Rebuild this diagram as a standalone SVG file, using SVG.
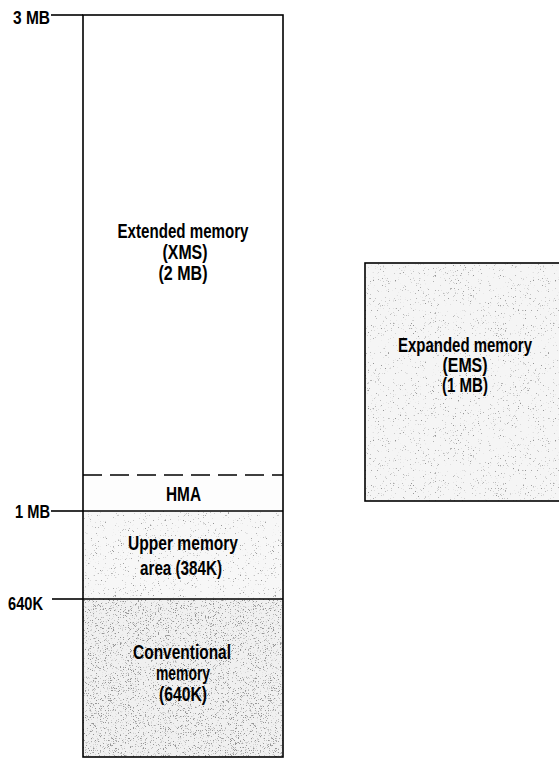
<svg xmlns="http://www.w3.org/2000/svg" width="559" height="760" viewBox="0 0 559 760">
<defs>
<filter id="specklight" x="0" y="0" width="1" height="1" filterUnits="objectBoundingBox">
<feTurbulence type="fractalNoise" baseFrequency="1.6" numOctaves="1" seed="4"/>
<feColorMatrix type="matrix" values="0 0 0 0 0.3  0 0 0 0 0.3  0 0 0 0 0.3  9 0 0 0 -5.9"/>
<feComposite in2="SourceAlpha" operator="in"/>
</filter>
<filter id="speckdense" x="0" y="0" width="1" height="1" filterUnits="objectBoundingBox">
<feTurbulence type="fractalNoise" baseFrequency="1.6" numOctaves="1" seed="9"/>
<feColorMatrix type="matrix" values="0 0 0 0 0.3  0 0 0 0 0.3  0 0 0 0 0.3  9 0 0 0 -5.3"/>
<feComposite in2="SourceAlpha" operator="in"/>
</filter>
</defs>
<style>
.box{fill:none;stroke:#000;stroke-width:1.6}
.ln{stroke:#000;stroke-width:1.6;fill:none}
.dash{stroke:#000;stroke-width:1.6;stroke-dasharray:19 8;fill:none}
text{font-family:"Liberation Sans",Arial,sans-serif;font-weight:bold;font-size:20px;fill:#000}
.c{text-anchor:middle}
.e{text-anchor:end}
.s{font-size:19px}
</style>

<g id="extended-memory">
<rect x="83" y="15" width="200" height="460" fill="#fff"/>
<text class="c" x="183" y="238" textLength="131" lengthAdjust="spacingAndGlyphs">Extended memory</text>
<text class="c" x="185" y="259" textLength="45" lengthAdjust="spacingAndGlyphs">(XMS)</text>
<text class="c" x="183" y="280" textLength="49" lengthAdjust="spacingAndGlyphs">(2 MB)</text>
</g>

<g id="hma">
<rect x="83" y="475" width="200" height="36" fill="#fdfdfd"/>
<text class="c" x="183.5" y="501" textLength="35" lengthAdjust="spacingAndGlyphs">HMA</text>
</g>

<g id="upper-memory-area">
<rect x="83" y="511" width="200" height="88" fill="#f7f7f7"/>
<rect x="83" y="511" width="200" height="88" fill="#fff" filter="url(#specklight)"/>
<text class="c" x="183" y="550" textLength="110" lengthAdjust="spacingAndGlyphs">Upper memory</text>
<text class="c" x="181" y="575" textLength="82" lengthAdjust="spacingAndGlyphs">area (384K)</text>
</g>

<g id="conventional-memory">
<rect x="83" y="599" width="200" height="158" fill="#f0f0f0"/>
<rect x="83" y="599" width="200" height="158" fill="#fff" filter="url(#speckdense)"/>
<text class="c" x="182" y="659" textLength="98" lengthAdjust="spacingAndGlyphs">Conventional</text>
<text class="c" x="183" y="680" textLength="54" lengthAdjust="spacingAndGlyphs">memory</text>
<text class="c" x="183" y="701" textLength="48" lengthAdjust="spacingAndGlyphs">(640K)</text>
</g>

<g id="expanded-memory">
<rect x="365" y="263" width="200" height="238" fill="#f5f5f5"/>
<rect x="365" y="263" width="200" height="238" fill="#fff" filter="url(#specklight)"/>
<rect x="365" y="263" width="200" height="238" class="box"/>
<text class="c" x="465" y="352" textLength="134" lengthAdjust="spacingAndGlyphs">Expanded memory</text>
<text class="c" x="465" y="372" textLength="45" lengthAdjust="spacingAndGlyphs">(EMS)</text>
<text class="c" x="465" y="392" textLength="46" lengthAdjust="spacingAndGlyphs">(1 MB)</text>
</g>

<g id="scale-labels">
<text class="e s" x="50" y="24" textLength="37" lengthAdjust="spacingAndGlyphs">3 MB</text>
<text class="e s" x="50" y="518" textLength="35" lengthAdjust="spacingAndGlyphs">1 MB</text>
<text class="e s" x="43" y="610" textLength="35" lengthAdjust="spacingAndGlyphs">640K</text>
</g>

<g id="connectors">
<rect x="83" y="15" width="200" height="742" class="box"/>
<line x1="83" y1="475" x2="283" y2="475" class="dash"/>
<line x1="83" y1="511" x2="283" y2="511" class="ln"/>
<line x1="83" y1="599" x2="283" y2="599" class="ln"/>
<line x1="51" y1="15" x2="83" y2="15" class="ln"/>
<line x1="51" y1="511" x2="83" y2="511" class="ln"/>
<line x1="52" y1="599" x2="83" y2="599" class="ln"/>
</g>
</svg>
